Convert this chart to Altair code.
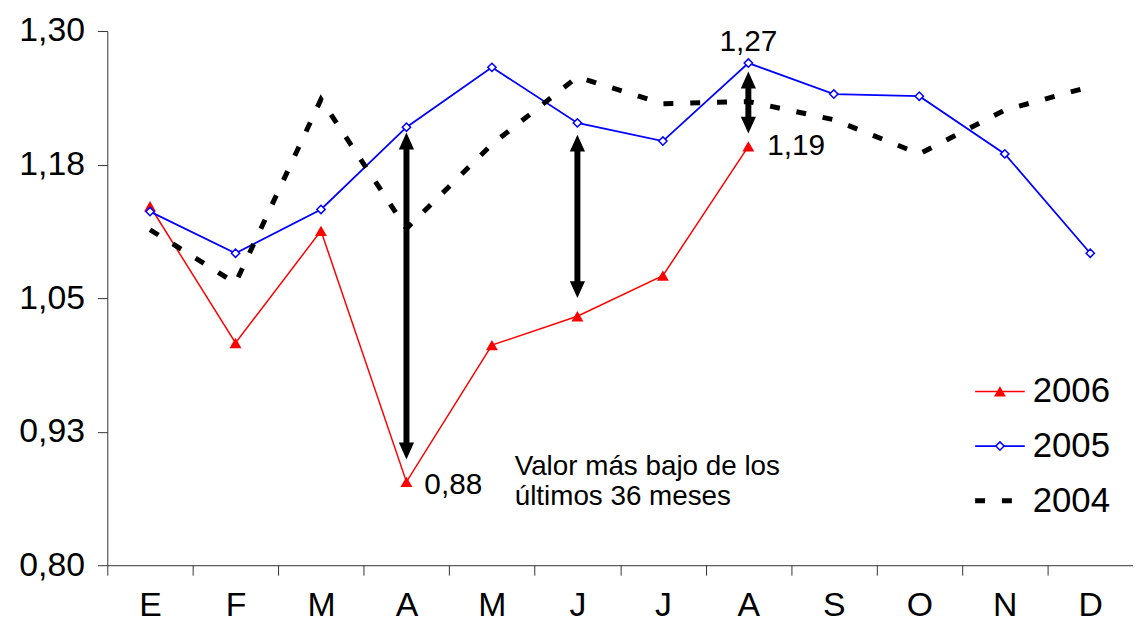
import altair as alt
import pandas as pd

FONT = "Liberation Sans"

# ---- data ----
meses = ["E", "F", "M", "A", "M", "J", "J", "A", "S", "O", "N", "D"]
v2006 = [1.136, 1.008, 1.113, 0.878, 1.006, 1.033, 1.071, 1.192]
v2005 = [1.131, 1.092, 1.133, 1.210, 1.266, 1.214, 1.197, 1.270, 1.241, 1.239, 1.185, 1.092]
v2004 = [1.114, 1.064, 1.236, 1.115, 1.194, 1.257, 1.232, 1.234, 1.217, 1.185, 1.226, 1.248]
anios = ["2006", "2005", "2004"]

y_ticks = [0.80, 0.925, 1.05, 1.175, 1.30]
y_tick_labels = ["0,80", "0,93", "1,05", "1,18", "1,30"]

# double-headed arrows (month index, upper value, lower value)
flecha_mes = [3, 5, 7]
flecha_sup = [1.205, 1.203, 1.262]
flecha_inf = [0.899, 1.050, 1.204]

# value labels
etiqueta_serie = ["2005", "2006", "2006"]
etiqueta_mes = [7, 7, 3]
etiqueta_texto = ["1,27", "1,19", "0,88"]

nota_serie = "2006"
nota_mes = 3
nota_texto = "Valor más bajo de los\núltimos 36 meses"

# ---- tables ----
series = {"2006": v2006, "2005": v2005, "2004": v2004}
dfs = {k: pd.DataFrame({"mes": list(range(len(v))), "valor": v}) for k, v in series.items()}
df_fl = pd.DataFrame({"mes": flecha_mes, "sup": flecha_sup, "inf": flecha_inf})
df_et = pd.DataFrame({
    "mes": etiqueta_mes,
    "valor": [series[s][m] for s, m in zip(etiqueta_serie, etiqueta_mes)],
    "texto": etiqueta_texto,
})
df_nota = pd.DataFrame({"mes": [nota_mes], "valor": [series[nota_serie][nota_mes]], "texto": [nota_texto]})
df_leg = pd.DataFrame({"anio": anios})

x_label_expr = "[" + ",".join(f"'{m}'" for m in meses) + "][datum.value]"
y_label_expr = ("[" + ",".join(f"'{t}'" for t in y_tick_labels) + "][indexof(["
                + ",".join(str(v) for v in y_ticks) + "], datum.value)]")

AX = "#333333"


def X():
    return alt.X(
        "mes:O",
        scale=alt.Scale(type="band", domain=list(range(len(meses))), paddingInner=0, paddingOuter=0),
        axis=alt.Axis(title=None, labelExpr=x_label_expr, labelAngle=0, labelFontSize=34,
                      labelFont=FONT, labelColor="black", tickBand="extent", tickSize=10,
                      tickColor=AX, domainColor=AX, labelPadding=14, grid=False,
                      labelBaseline="top"),
    )


def Y(field):
    return alt.Y(
        f"{field}:Q",
        scale=alt.Scale(domain=[0.8, 1.3], nice=False, zero=False),
        axis=alt.Axis(title=None, values=y_ticks, labelExpr=y_label_expr, labelFontSize=34,
                      labelFont=FONT, labelColor="black", tickSize=10, tickColor=AX,
                      domainColor=AX, labelPadding=13, grid=False),
    )


l06 = alt.Chart(dfs["2006"]).mark_line(color="#FF0000", strokeWidth=1.5).encode(x=X(), y=Y("valor"))
p06 = alt.Chart(dfs["2006"]).mark_point(shape="triangle-up", filled=True, color="#FF0000",
                                         size=144, opacity=1).encode(x=X(), y=Y("valor"))
l05 = alt.Chart(dfs["2005"]).mark_line(color="#0000FF", strokeWidth=1.8).encode(x=X(), y=Y("valor"))
p05 = alt.Chart(dfs["2005"]).mark_point(shape="diamond", filled=True, fill="white", stroke="#0000FF",
                                         strokeWidth=1.5, size=70, opacity=1).encode(x=X(), y=Y("valor"))
l04 = alt.Chart(dfs["2004"]).mark_line(color="black", strokeWidth=5, strokeDash=[10, 17],
                                        strokeCap="butt").encode(x=X(), y=Y("valor"))

HEAD_UP = "M0,0L-0.9,2L0.9,2Z"
HEAD_DOWN = "M0,0L-0.9,-2L0.9,-2Z"
f_rule = alt.Chart(df_fl).mark_rule(color="black", strokeWidth=6, yOffset=12, y2Offset=-12).encode(
    x=X(), y=Y("sup"), y2="inf:Q")
f_up = alt.Chart(df_fl).mark_point(shape=HEAD_UP, size=289, filled=True, color="black", opacity=1).encode(
    x=X(), y=Y("sup"))
f_down = alt.Chart(df_fl).mark_point(shape=HEAD_DOWN, size=289, filled=True, color="black", opacity=1).encode(
    x=X(), y=Y("inf"))

label_styles = [
    dict(align="center", dx=0, dy=-21),
    dict(align="left", dx=19, dy=0),
    dict(align="left", dx=18, dy=3),
]
t_layers = []
for i, st in enumerate(label_styles):
    t_layers.append(
        alt.Chart(df_et.iloc[[i]]).mark_text(baseline="middle", fontSize=30, font=FONT, color="black", **st)
        .encode(x=X(), y=Y("valor"), text="texto:N")
    )
nota = alt.Chart(df_nota).mark_text(align="left", baseline="middle", fontSize=28, font=FONT, color="black",
                                    lineBreak="\n", lineHeight=30, dx=109, dy=-15).encode(
    x=X(), y=Y("valor"), text="texto:N")

main = alt.layer(l06, p06, l05, p05, l04, f_rule, f_up, f_down, *t_layers, nota)

# ---- legend ----
leg_y = alt.Y("anio:N", scale=alt.Scale(type="point", domain=anios, range=[363, 473], padding=0), axis=None)
leg_styles = {
    "2006": dict(color="#FF0000", strokeWidth=1.5),
    "2005": dict(color="#0000FF", strokeWidth=1.8),
    "2004": dict(color="black", strokeWidth=5, strokeDash=[10, 17], strokeCap="butt"),
}
leg_layers = []
for a in anios:
    leg_layers.append(
        alt.Chart(df_leg).transform_filter(alt.datum.anio == a).mark_rule(**leg_styles[a])
        .encode(x=alt.value(874), x2=alt.value(924), y=leg_y)
    )
leg_layers.append(
    alt.Chart(df_leg).transform_filter(alt.datum.anio == "2006")
    .mark_point(shape="triangle-up", filled=True, color="#FF0000", size=144, opacity=1)
    .encode(x=alt.value(899), y=leg_y)
)
leg_layers.append(
    alt.Chart(df_leg).transform_filter(alt.datum.anio == "2005")
    .mark_point(shape="diamond", filled=True, fill="white", stroke="#0000FF", strokeWidth=1.5, size=70, opacity=1)
    .encode(x=alt.value(899), y=leg_y)
)
leg_layers.append(
    alt.Chart(df_leg).mark_text(align="left", baseline="middle", fontSize=35, font=FONT, color="black")
    .encode(x=alt.value(932), y=leg_y, text="anio:N")
)
legend = alt.layer(*leg_layers)

chart = (
    alt.layer(main, legend)
    .resolve_scale(y="independent")
    .properties(width=1033, height=538, autosize="none",
                padding={"left": 100, "top": 21, "right": 0, "bottom": 55},
                background="white")
    .configure_view(stroke=None)
)

chart.save("out.html", embed_options={"renderer": "svg", "actions": False})
